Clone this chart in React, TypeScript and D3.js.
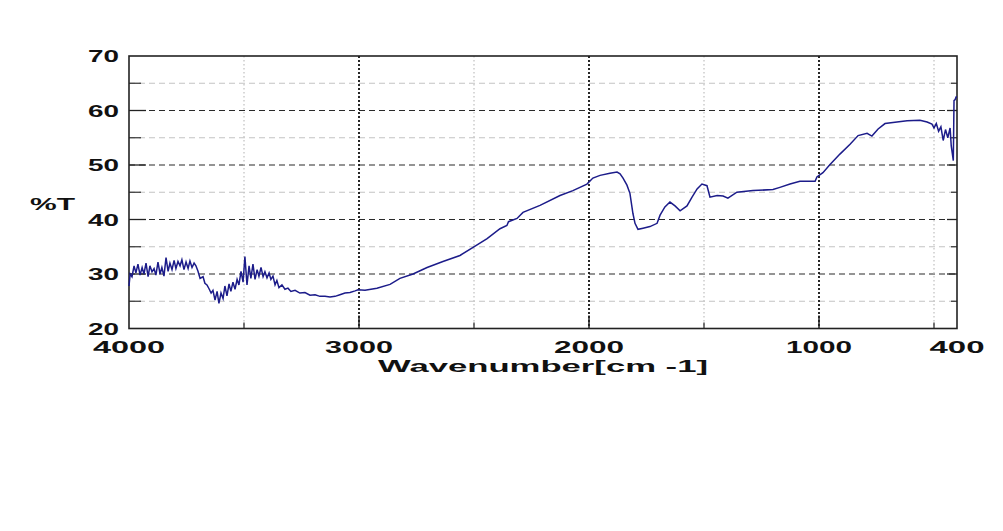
import React from "react";
import * as d3 from "d3";

const wavenumbers = [
  4000, 3995, 3987, 3978, 3970, 3961, 3952, 3943, 3935, 3926, 3917, 3909, 3900, 3891, 3883, 3874,
  3865, 3857, 3848, 3839, 3830, 3822, 3813, 3804, 3796, 3787, 3778, 3770, 3761, 3752, 3743, 3735,
  3726, 3717, 3709, 3700, 3691, 3678, 3670, 3661, 3652, 3643, 3635, 3626, 3617, 3609, 3600, 3591,
  3583, 3574, 3565, 3557, 3548, 3539, 3530, 3522, 3513, 3504, 3496, 3487, 3478, 3470, 3461, 3452,
  3443, 3435, 3426, 3417, 3409, 3400, 3391, 3383, 3374, 3365, 3357, 3348, 3335, 3322, 3309, 3296,
  3278, 3257, 3235, 3213, 3191, 3170, 3148, 3126, 3104, 3083, 3061, 3039, 3017, 3004, 2974, 2922,
  2865, 2822, 2765, 2704, 2635, 2561, 2504, 2443, 2387, 2357, 2350, 2313, 2287, 2213, 2126, 2070,
  2009, 1983, 1952, 1909, 1878, 1865, 1852, 1835, 1822, 1809, 1800, 1787, 1765, 1735, 1704, 1691,
  1670, 1648, 1626, 1604, 1574, 1552, 1530, 1509, 1487, 1474, 1443, 1417, 1396, 1357, 1287, 1200,
  1170, 1126, 1083, 1017, 1009, 983, 952, 909, 865, 830, 791, 770, 743, 713, 661, 617,
  561, 530, 509, 500, 490, 480, 470, 460, 450, 440, 430, 425, 420, 416, 413, 408,
  404, 400,
];

const transmittance = [
  27.8, 30.0, 29.5, 31.5, 30.2, 31.8, 29.8, 31.2, 30.0, 32.0, 29.5, 31.5, 30.4, 31.0, 29.8, 32.2,
  30.0, 31.2, 29.6, 33.0, 30.5, 32.0, 30.8, 32.5, 31.0, 32.3, 31.5, 32.6, 30.8, 32.2, 31.0, 32.4,
  31.2, 32.0, 31.5, 30.5, 29.2, 29.5, 28.3, 28.0, 27.3, 26.5, 27.0, 25.2, 26.8, 24.6, 26.5, 25.5,
  27.8, 26.0, 28.2, 26.8, 28.5, 27.2, 29.0, 28.0, 30.5, 28.5, 33.2, 28.0, 31.5, 29.2, 31.8, 29.0,
  30.8, 29.6, 31.2, 29.5, 30.4, 29.3, 30.2, 29.0, 29.6, 28.0, 28.8, 27.5, 28.0, 27.2, 27.4, 26.8,
  27.0, 26.5, 26.6, 26.1, 26.2, 25.9, 25.9, 25.8, 25.9, 26.2, 26.5, 26.6, 26.9, 27.1, 27.0, 27.4,
  28.1, 29.2, 30.0, 31.2, 32.3, 33.4, 34.9, 36.5, 38.3, 38.9, 39.6, 40.2, 41.3, 42.6, 44.4, 45.3,
  46.5, 47.6, 48.1, 48.5, 48.7, 48.4, 47.6, 46.3, 44.8, 41.1, 39.3, 38.2, 38.4, 38.7, 39.3, 40.8,
  42.3, 43.2, 42.5, 41.6, 42.5, 44.1, 45.6, 46.5, 46.2, 44.1, 44.4, 44.3, 43.9, 45.0, 45.3, 45.5,
  45.9, 46.5, 47.0, 47.0, 47.8, 48.6, 50.1, 52.0, 53.8, 55.4, 55.8, 55.3, 56.6, 57.6, 57.9, 58.1,
  58.2, 57.9, 57.5, 56.8, 57.6, 56.2, 57.0, 54.5, 56.5, 55.0, 56.8, 53.5, 52.0, 50.8, 61.8, 62.0,
  62.5, 62.5,
];

const xMajorTicks = [4000, 3000, 2000, 1000, 400];
const xGridMajor = [3000, 2000, 1000];
const xGridMinor = [3500, 2500, 1500, 500];
const yMajorTicks = [70, 60, 50, 40, 30, 20];
const yGridMajor = [60, 50, 40, 30];
const yGridMinor = [65, 55, 45, 35, 25];
const xLabelWidths: Record<number, number> = { 4000: 72, 3000: 68, 2000: 70, 1000: 66, 400: 55 };

const W = 1003;
const H = 531;
const L = 129;
const R = 957;
const T = 56;
const B = 328.5;

export default function App() {
  const x = d3.scaleLinear().domain([4000, 400]).range([L, R]);
  const y = d3.scaleLinear().domain([20, 70]).range([B, T]);
  const pts: [number, number][] = wavenumbers.map((w, i) => [w, transmittance[i]]);
  const line = d3
    .line<[number, number]>()
    .x((d) => x(d[0]))
    .y((d) => y(d[1]))
    .curve(d3.curveLinear);
  const font = "'Liberation Sans', Arial, sans-serif";

  return (
    <svg
      width={W}
      height={H}
      style={{ position: "absolute", left: 0, top: 0, background: "#fff" }}
    >
      <rect x={0} y={0} width={W} height={H} fill="#fff" />
      {yGridMinor.map((v) => (
        <line key={"hm" + v} x1={L} x2={R} y1={y(v)} y2={y(v)} stroke="#c4c4c4" strokeWidth={1.2} strokeDasharray="6,4" />
      ))}
      {yGridMajor.map((v) => (
        <line key={"hM" + v} x1={L} x2={R} y1={y(v)} y2={y(v)} stroke="#2a2a2a" strokeWidth={1.2} strokeDasharray="6,4" />
      ))}
      {xGridMinor.map((v) => (
        <line key={"vm" + v} x1={x(v)} x2={x(v)} y1={T} y2={B} stroke="#c4c4c4" strokeWidth={1.3} strokeDasharray="1.5,2.5" />
      ))}
      {xGridMajor.map((v) => (
        <line key={"vM" + v} x1={x(v)} x2={x(v)} y1={T} y2={B} stroke="#111" strokeWidth={1.8} strokeDasharray="2,2" />
      ))}
      {yGridMajor.map((v) => (
        <g key={"ytM" + v}>
          <line x1={L} x2={L + 17} y1={y(v)} y2={y(v)} stroke="#222" strokeWidth={1.3} />
          <line x1={R - 10} x2={R} y1={y(v)} y2={y(v)} stroke="#222" strokeWidth={1.3} />
        </g>
      ))}
      {yGridMinor.map((v) => (
        <g key={"ytm" + v}>
          <line x1={L} x2={L + 12} y1={y(v)} y2={y(v)} stroke="#333" strokeWidth={1.2} />
          <line x1={R - 6} x2={R} y1={y(v)} y2={y(v)} stroke="#333" strokeWidth={1.2} />
        </g>
      ))}
      {xGridMajor.map((v) => (
        <line key={"xtM" + v} x1={x(v)} x2={x(v)} y1={B} y2={B - 13} stroke="#222" strokeWidth={1.5} />
      ))}
      {xGridMinor.map((v) => (
        <line key={"xtm" + v} x1={x(v)} x2={x(v)} y1={B} y2={B - 6} stroke="#333" strokeWidth={1.3} />
      ))}
      <rect x={L} y={T} width={R - L} height={B - T} fill="none" stroke="#222" strokeWidth={1.6} />
      <path d={line(pts) || ""} fill="none" stroke="#1c1c8a" strokeWidth={1.5} />
      {yMajorTicks.map((v) => (
        <text
          key={"yl" + v}
          x={119}
          y={y(v) + 6}
          textAnchor="end"
          fontFamily={font}
          fontWeight="bold"
          fontSize={17}
          textLength={31}
          lengthAdjust="spacingAndGlyphs"
          fill="#111"
        >
          {v}
        </text>
      ))}
      {xMajorTicks.map((v) => (
        <text
          key={"xl" + v}
          x={x(v)}
          y={353}
          textAnchor="middle"
          fontFamily={font}
          fontWeight="bold"
          fontSize={16}
          textLength={xLabelWidths[v]}
          lengthAdjust="spacingAndGlyphs"
          fill="#111"
        >
          {v}
        </text>
      ))}
      <text
        x={30}
        y={210}
        fontFamily={font}
        fontWeight="bold"
        fontSize={17}
        textLength={45}
        lengthAdjust="spacingAndGlyphs"
        fill="#111"
      >
        %T
      </text>
      <text
        x={543}
        y={372}
        textAnchor="middle"
        fontFamily={font}
        fontWeight="bold"
        fontSize={17}
        textLength={330}
        lengthAdjust="spacingAndGlyphs"
        fill="#111"
      >
        Wavenumber[cm -1]
      </text>
    </svg>
  );
}
